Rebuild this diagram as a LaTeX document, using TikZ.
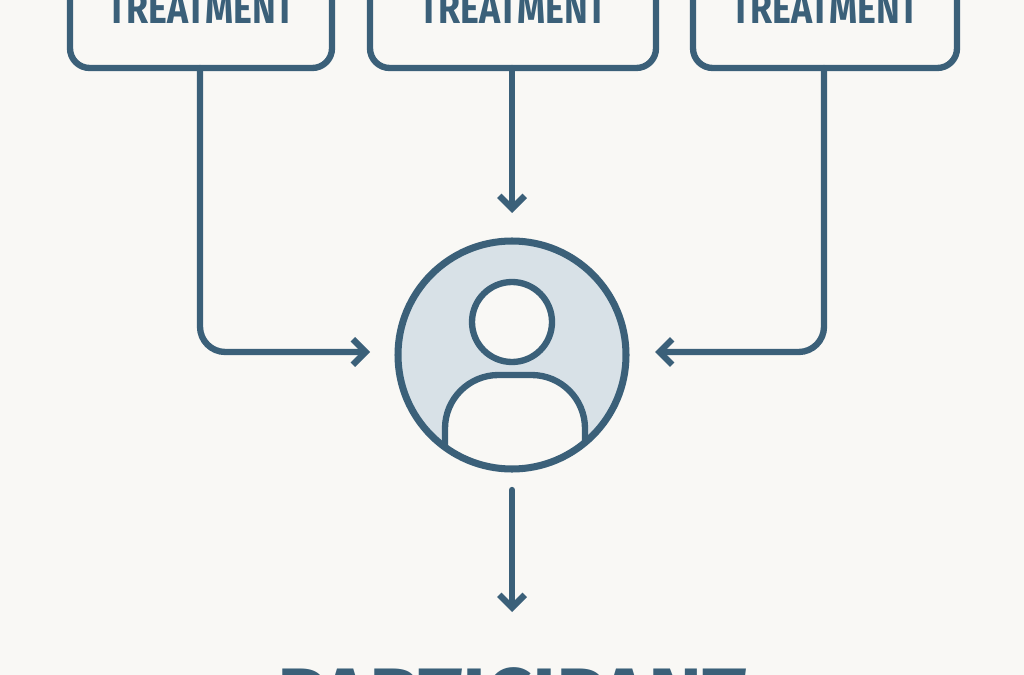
\documentclass[tikz,border=0pt]{standalone}
\usepackage{fontspec}
\setmainfont{Fira Sans}
\usetikzlibrary{arrows.meta}
\definecolor{ink}{HTML}{3B6079}
\definecolor{bg}{HTML}{F9F8F5}
\definecolor{pale}{HTML}{D8E1E7}
\begin{document}
\begin{tikzpicture}[x=0.025cm,y=-0.025cm,
  line/.style={ink,line width=4.5pt,line cap=round,line join=round},
  arr/.style={line,-{Straight Barb[length=9pt,width=18pt,line width=4.5pt]}},
  box/.style={draw=ink,line width=4.5pt,rounded corners=14pt,fill=bg},
  lbl/.style={text=ink,font=\fontsize{31}{31}\selectfont\fontseries{sb}\selectfont,xscale=0.82}]
\useasboundingbox (0,0) rectangle (1024,675);
\clip (0,0) rectangle (1024,675);
\fill[bg] (0,0) rectangle (1024,675);
\draw[box] (70,-60) rectangle (332,68);
\draw[box] (370,-60) rectangle (656,68);
\draw[box] (693,-60) rectangle (957,68);
\node[lbl] (t1) at (201,8) {TREATMENT};
\node[lbl] (t2) at (513,8) {TREATMENT};
\node[lbl] (t3) at (825,8) {TREATMENT};
\coordinate (b1) at (200,68);
\coordinate (b2) at (512,68);
\coordinate (b3) at (824,68);
\node[circle,fill=pale,minimum size=230*0.025cm,inner sep=0] (p) at (512,355) {};
\draw[arr,rounded corners=18pt] (b1) -- (200,352) -- (370,352);
\draw[arr] (b2) -- (512,213);
\draw[arr,rounded corners=18pt] (b3) -- (824,352) -- (655,352);
\begin{scope}
\clip (512,355) circle (113);
\draw[line,fill=bg,rounded corners=38pt] (445,500) -- (445,375) -- (585,375) -- (585,500);
\end{scope}
\draw[ink,line width=5pt] (512,355) circle (114);
\node[circle,draw=ink,fill=bg,line width=4.5pt,minimum size=80*0.025cm,inner sep=0] (head) at (512,322) {};
\coordinate (pb) at (512,490);
\draw[arr] (pb) -- (512,612);
\node[text=ink,font=\fontsize{58}{58}\selectfont\bfseries] (pt) at (512,697) {PARTICIPANT};
\end{tikzpicture}
\end{document}
